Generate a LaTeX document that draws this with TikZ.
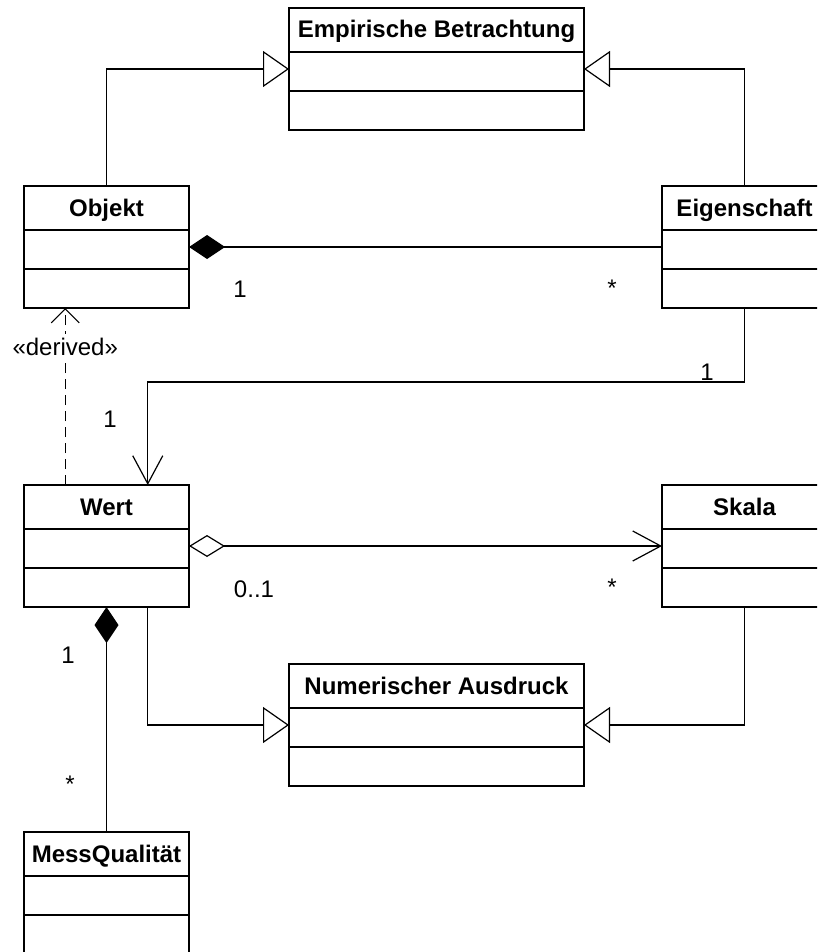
\documentclass[tikz,border=0pt]{standalone}
\usepackage{fontspec}
\setmainfont{Liberation Sans}
\usetikzlibrary{arrows.meta,calc}

% class box: name, position, width, title
\newcommand{\umlclass}[4]{%
  \node[cls,minimum width=#3](#1) at #2 {};
  \node[ttl](#1-t) at ($(#1.north)+(0,30)$) {#4};
  \draw[sep] ($(#1.north west)+(0,44)$) -- ($(#1.north east)+(0,44)$);
  \draw[sep] ($(#1.north west)+(0,83)$) -- ($(#1.north east)+(0,83)$);
}

\begin{document}
\begin{tikzpicture}[x=1pt,y=-1pt, line width=1.2pt, font=\fontsize{24}{28}\selectfont,
  cls/.style={draw,line width=1.8pt,minimum height=122pt,inner sep=0pt,outer sep=0pt},
  ttl/.style={anchor=base,font=\fontsize{24}{28}\selectfont\bfseries},
  sep/.style={line width=1.8pt},
  mult/.style={anchor=base},
  gen/.style={-{Triangle[open,length=26pt,width=36pt]}},
  comp/.style={{Diamond[length=36pt,width=24pt]}-},
  agg/.style={{Diamond[open,length=36pt,width=22pt]}-{Straight Barb[length=28pt,width=30pt]}},
  nav/.style={-{Straight Barb[length=28pt,width=30pt]}},
  dep/.style={dash pattern=on 10pt off 6pt,-{Straight Barb[length=14pt,width=28pt]}}]
  \useasboundingbox (0,0) rectangle (817,952);
  \clip (0,0) rectangle (817,952);
  \umlclass{emp}{(436.5,69)}{295pt}{Empirische Betrachtung}
  \umlclass{obj}{(106.5,247)}{165pt}{Objekt}
  \umlclass{eig}{(744.5,247)}{165pt}{Eigenschaft}
  \umlclass{wert}{(106.5,546)}{165pt}{Wert}
  \umlclass{skala}{(744.5,546)}{165pt}{Skala}
  \umlclass{num}{(436.5,725)}{295pt}{Numerischer Ausdruck}
  \umlclass{mess}{(106.5,893)}{165pt}{MessQualität}
  \coordinate(wtop) at ($(wert.north west)!0.75!(wert.north east)$);
  \coordinate(wbot) at ($(wert.south west)!0.75!(wert.south east)$);
  \coordinate(wdep) at ($(wert.north west)!0.25!(wert.north east)$);
  \draw[gen](obj.north)|-(emp.west);
  \draw[gen](eig.north)|-(emp.east);
  \draw[comp](obj.east)--(eig.west);
  \draw[nav](eig.south)--++(0,74)-|(wtop);
  \draw[dep](wdep)--(wdep|-obj.south);
  \node[mult,fill=white,inner sep=4pt](drv) at ($(wdep)+(0,-130)$){«derived»};
  \draw[agg](wert.east)--(skala.west);
  \draw[gen](wbot)|-(num.west);
  \draw[gen](skala.south)|-(num.east);
  \draw[comp](wert.south)--(mess.north);
  \node[mult](m1) at (240,297){1};
  \node[mult](m2) at (612,296){*};
  \node[mult](m3) at (707,380){1};
  \node[mult](m4) at (110,427){1};
  \node[mult](m5) at (254,597){0..1};
  \node[mult](m6) at (612,595){*};
  \node[mult](m7) at (68,663){1};
  \node[mult](m8) at (70,792){*};
\end{tikzpicture}
\end{document}
